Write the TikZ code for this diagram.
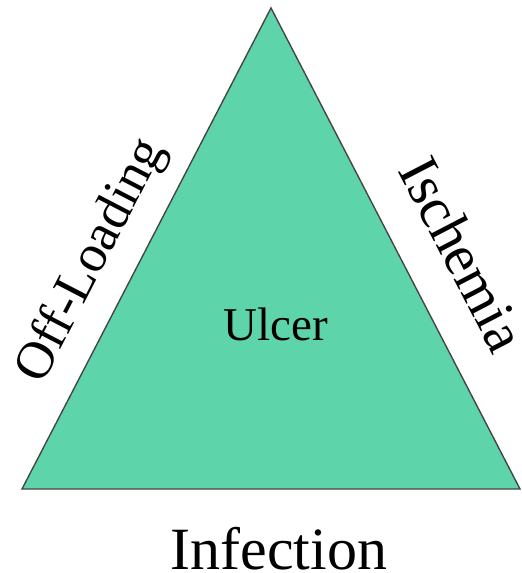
\documentclass[tikz,border=0pt]{standalone}
\usepackage{fontspec}
\setmainfont{Liberation Serif}
\definecolor{ulcergreen}{RGB}{94,212,170}
\definecolor{edgegray}{RGB}{70,70,70}
\begin{document}
\begin{tikzpicture}[x=1pt,y=-1pt,
  label60/.style={inner sep=0pt, font=\fontsize{60}{72}\selectfont},
  sidelabel/.style={inner sep=0pt, font=\fontsize{53}{64}\selectfont},
  tri/.style={fill=ulcergreen, draw=edgegray, line width=1.4pt, line join=miter}]
\useasboundingbox (0,0) rectangle (522,573);
\coordinate (A) at (271,8);
\coordinate (B) at (22,489);
\coordinate (C) at (520,489);
\draw[tri] (A) -- (B) -- (C) -- cycle;
\node[inner sep=0pt, anchor=base, font=\fontsize{47}{56}\selectfont] (ulcer) at (275.5,340) {Ulcer};
\node[label60, anchor=base] (infection) at (279,569) {Infection};
\node[sidelabel, rotate=62.6] (offloading) at (92,261) {Off-Loading};
\node[inner sep=0pt, font=\fontsize{58}{70}\selectfont, rotate=-62.6] (ischemia) at (463,254) {Ischemia};
\end{tikzpicture}
\end{document}
